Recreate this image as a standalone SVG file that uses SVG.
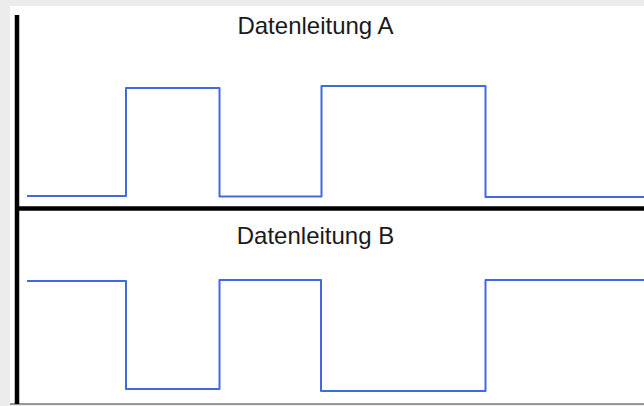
<svg xmlns="http://www.w3.org/2000/svg" width="644" height="406" viewBox="0 0 644 406">
  <style>
    .axis { stroke: #000; fill: none; }
    .sig { stroke: #4169e1; stroke-width: 2; fill: none; stroke-linejoin: round; }
    .lbl { font-family: "Liberation Sans", Arial, sans-serif; font-size: 24px; fill: #1a1a1a; text-anchor: middle; }
  </style>
  <rect x="0" y="0" width="644" height="406" fill="#ececec"/>
  <rect x="10" y="6" width="634" height="397.5" fill="#ffffff"/>
  <line x1="10" y1="404" x2="644" y2="404" stroke="#7a7a7a" stroke-width="1.5"/>
  <g id="axes">
    <line class="axis" x1="17" y1="15" x2="17" y2="404" stroke-width="4.5"/>
    <line class="axis" x1="15" y1="208.5" x2="644" y2="208.5" stroke-width="4.5"/>
  </g>
  <g id="signal-a">
    <text class="lbl" x="315.5" y="33.5">Datenleitung A</text>
    <path class="sig" d="M27,196 H126 V88 H219.5 V196.5 H321.5 V86 H485.5 V197 H646"/>
  </g>
  <g id="signal-b">
    <text class="lbl" x="315.5" y="244">Datenleitung B</text>
    <path class="sig" d="M27,281 H126 V389 H219.5 V280 H321 V391 H485.5 V280 H646"/>
  </g>
</svg>
